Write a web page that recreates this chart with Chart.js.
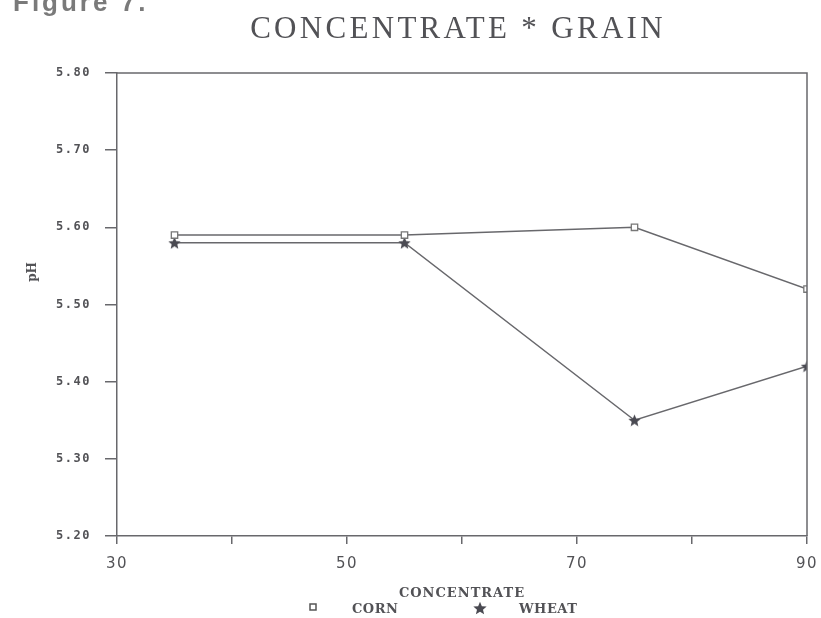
<!DOCTYPE html>
<html>
<head>
<meta charset="utf-8">
<script src="https://cdn.jsdelivr.net/npm/chart.js@4/dist/chart.umd.min.js"></script>
<style>
  html, body { margin: 0; padding: 0; background: #fff; }
  #wrap { position: relative; width: 821px; height: 618px; overflow: hidden; }
  canvas { display: block; }
</style>
</head>
<body>
<div id="wrap"><canvas id="c" width="821" height="618"></canvas></div>
<script>
// ---- data ----
const concentrate = [35, 55, 75, 90];
const cornPH = [5.59, 5.59, 5.60, 5.52];
const wheatPH = [5.58, 5.58, 5.35, 5.42];
const xTickLabels = [30, 50, 70, 90];
const seriesNames = ['CORN', 'WHEAT'];
const chartTitle = 'CONCENTRATE * GRAIN';
const figureLabel = 'Figure 7.';
const xTitle = 'CONCENTRATE';
const yTitle = 'pH';

const INK = '#525256';
const LINE = '#68686c';

// filled 5-point star marker image
function makeStar(size, color) {
  const cv = document.createElement('canvas');
  cv.width = size; cv.height = size;
  const g = cv.getContext('2d');
  const cx = size / 2, cy = size / 2, R = size / 2, r = R * 0.45;
  g.beginPath();
  for (let i = 0; i < 10; i++) {
    const rad = i % 2 === 0 ? R : r;
    const a = -Math.PI / 2 + i * Math.PI / 5;
    const px = cx + rad * Math.cos(a), py = cy + rad * Math.sin(a) + size * 0.05;
    if (i === 0) g.moveTo(px, py); else g.lineTo(px, py);
  }
  g.closePath();
  g.fillStyle = color;
  g.fill();
  return cv;
}
const starImg = makeStar(13, '#4a4a52');
const starLegend = makeStar(14, '#4a4a52');

function setSpacing(ctx, v) { try { ctx.letterSpacing = v; } catch (e) {} }

const textPlugin = {
  id: 'texts',
  beforeDraw(chart) { setSpacing(chart.ctx, '1.5px'); },
  beforeDatasetsDraw(chart) { setSpacing(chart.ctx, '0px'); },
  afterDraw(chart) {
    const ctx = chart.ctx;
    const a = chart.chartArea;
    ctx.save();
    setSpacing(ctx, '0px');
    // full frame box
    ctx.strokeStyle = LINE;
    ctx.lineWidth = 1.5;
    ctx.beginPath();
    ctx.moveTo(a.left, a.top); ctx.lineTo(a.right, a.top); ctx.lineTo(a.right, a.bottom);
    ctx.stroke();

    // title
    ctx.fillStyle = INK;
    ctx.textAlign = 'center';
    ctx.textBaseline = 'alphabetic';
    ctx.font = '31px "Liberation Serif", "DejaVu Serif", serif';
    setSpacing(ctx, '3.3px');
    ctx.fillText(chartTitle, 458, 38);

    // figure label (clipped at top)
    ctx.textAlign = 'left';
    ctx.fillStyle = '#7a7a7a';
    ctx.font = 'bold 26px "Liberation Sans", Arial, sans-serif';
    setSpacing(ctx, '3px');
    ctx.fillText(figureLabel, 13, 11);

    // x-axis title
    ctx.fillStyle = INK;
    ctx.textAlign = 'center';
    ctx.font = 'bold 13px "DejaVu Serif", "Liberation Serif", serif';
    setSpacing(ctx, '1px');
    ctx.fillText(xTitle, (a.left + a.right) / 2, 597);

    // legend
    ctx.textAlign = 'left';
    setSpacing(ctx, '0.5px');
    ctx.fillText(seriesNames[0], 352, 613);
    ctx.fillText(seriesNames[1], 519, 613);
    setSpacing(ctx, '0px');
    ctx.strokeStyle = '#555';
    ctx.lineWidth = 1.5;
    ctx.strokeRect(310, 604, 6, 6);
    ctx.drawImage(starLegend, 473, 601, 14, 14);

    // y-axis title
    ctx.save();
    ctx.translate(33, 272);
    ctx.rotate(-Math.PI / 2);
    ctx.textAlign = 'center';
    ctx.textBaseline = 'middle';
    ctx.font = 'bold 12px "DejaVu Serif", "Liberation Serif", serif';
    ctx.fillText(yTitle, 0, 0);
    ctx.restore();

    ctx.restore();
  }
};

const toXY = (xs, ys) => xs.map((x, i) => ({ x: x, y: ys[i] }));

new Chart(document.getElementById('c'), {
  type: 'line',
  data: {
    datasets: [
      {
        label: seriesNames[0],
        data: toXY(concentrate, cornPH),
        borderColor: LINE,
        borderWidth: 1.5,
        pointStyle: 'rect',
        pointRadius: 4.5,
        pointBorderWidth: 1.3,
        pointBorderColor: '#777',
        pointBackgroundColor: '#fff',
        tension: 0
      },
      {
        label: seriesNames[1],
        data: toXY(concentrate, wheatPH),
        borderColor: LINE,
        borderWidth: 1.5,
        pointStyle: starImg,
        pointRadius: 6,
        tension: 0
      }
    ]
  },
  options: {
    responsive: false,
    animation: false,
    devicePixelRatio: 1,
    layout: { padding: { top: 73, right: 14, left: 0, bottom: 0 } },
    plugins: {
      legend: { display: false },
      title: { display: false },
      tooltip: { enabled: false }
    },
    scales: {
      x: {
        type: 'linear',
        min: 30, max: 90,
        afterFit(s) { s.height = 82; s.paddingRight = 0; s.paddingLeft = 0; },
        ticks: {
          stepSize: 10,
          autoSkip: false,
          maxRotation: 0,
          padding: 11,
          color: INK,
          font: { family: '"DejaVu Sans", sans-serif', size: 15 },
          callback: v => xTickLabels.includes(v) ? String(v) : ''
        },
        grid: { drawOnChartArea: false, drawTicks: true, tickLength: 8, color: LINE, lineWidth: 1.5 },
        border: { display: true, color: LINE, width: 1.5 }
      },
      y: {
        type: 'linear',
        min: 5.2, max: 5.8,
        afterFit(s) { s.width = 117; s.paddingTop = 0; s.paddingBottom = 0; },
        ticks: {
          stepSize: 0.1,
          padding: 14,
          color: INK,
          font: { family: '"DejaVu Sans Mono", monospace', size: 12, weight: 'bold' },
          callback: v => Number(v).toFixed(2)
        },
        grid: { drawOnChartArea: false, drawTicks: true, tickLength: 12, color: LINE, lineWidth: 1.5 },
        border: { display: true, color: LINE, width: 1.5 }
      }
    }
  },
  plugins: [textPlugin]
});
</script>
</body>
</html>
